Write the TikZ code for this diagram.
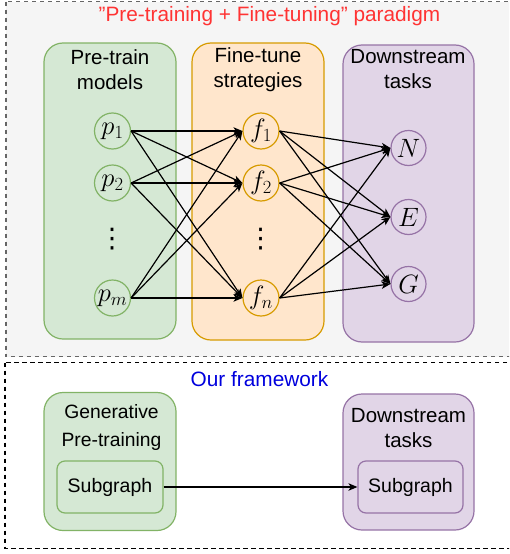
\RequirePackage{fix-cm}
\documentclass[tikz,border=0pt]{standalone}
\usepackage[no-math]{fontspec}
\setmainfont{Liberation Sans}
\newfontfamily\symfont{DejaVu Sans}
\usetikzlibrary{arrows.meta}
\definecolor{gfill}{HTML}{D5E8D4}
\definecolor{gline}{HTML}{82B366}
\definecolor{ofill}{HTML}{FFE6CC}
\definecolor{oline}{HTML}{D79B00}
\definecolor{vfill}{HTML}{E1D5E7}
\definecolor{vline}{HTML}{9673A6}
\definecolor{panel}{HTML}{F5F5F5}
\definecolor{panelline}{HTML}{666666}
\definecolor{titlered}{HTML}{FF3333}
\definecolor{titleblue}{HTML}{0000DD}
\tikzset{
  bigbox/.style={rectangle, rounded corners=19pt, line width=1.2pt, inner sep=0pt},
  gbox/.style={bigbox, fill=gfill, draw=gline},
  obox/.style={bigbox, fill=ofill, draw=oline},
  vbox/.style={bigbox, fill=vfill, draw=vline},
  subbox/.style={rectangle, rounded corners=8pt, line width=1.2pt, inner sep=0pt,
    minimum width=106pt, minimum height=52pt, font=\fontsize{19.5}{23}\selectfont},
  head/.style={align=center, font=\fontsize{20.5}{25}\selectfont, inner sep=0pt},
  headsm/.style={align=center, font=\fontsize{19.3}{28}\selectfont, inner sep=0pt},
  var/.style={circle, minimum size=36pt, inner sep=0pt, line width=1.2pt,
    font=\fontsize{26.5}{32}\selectfont},
  gvar/.style={var, draw=gline, fill=gfill},
  ovar/.style={var, draw=oline, fill=ofill},
  vvar/.style={var, draw=vline, fill=vfill, minimum size=35pt},
  link/.style={line width=1.2pt, -{Stealth[length=9pt, width=7.5pt, inset=2.5pt]}},
  vdotsnode/.style={inner sep=0pt, font=\symfont\fontsize{27}{30}\selectfont},
}
\begin{document}
\begin{tikzpicture}[x=1pt, y=-1pt]
\useasboundingbox (0,0) rectangle (509,554);
\clip (0,0) rectangle (509,554);

% the two framing panels
\draw[fill=panel, draw=panelline, line width=1.2pt, dash pattern=on 4pt off 4pt]
  (6,1.5) rectangle (530,356.5);
\draw[draw=black, line width=1.3pt, dash pattern=on 4.5pt off 3.5pt]
  (5,362.5) rectangle (530,548.5);

\node[font=\fontsize{20.8}{25}\selectfont, text=titlered] (ttl) at (269.5,16)
  {"Pre-training + Fine-tuning" paradigm};

% three columns
\node[gbox, minimum width=132pt, minimum height=296pt] (pre) at (110,191) {};
\node[obox, minimum width=132pt, minimum height=297pt] (fin) at (258,191.5) {};
\node[vbox, minimum width=131pt, minimum height=297pt] (dwn) at (408.5,193.5) {};

\node[head] (preh) at (110,69.5) {Pre-train\\models};
\node[head] (finh) at (258,69.5) {Fine-tune\\strategies};
\node[head] (dwnh) at (408,69.5) {Downstream\\tasks};

% pre-trained models
\node[gvar] (p1) at (112.5,131) {$p_1$};
\node[gvar] (p2) at (112.5,183) {$p_2$};
\node[vdotsnode] (pd) at (112,239.5) {⋮};
\node[gvar] (pm) at (112.5,298) {$p_m$};

% fine-tuning strategies
\node[ovar] (f1) at (261,131) {$f_1$};
\node[ovar] (f2) at (261,183) {$f_2$};
\node[vdotsnode] (fd) at (260.5,239.5) {⋮};
\node[ovar] (fn) at (261,298) {$f_n$};

% downstream tasks
\node[vvar] (N) at (408.5,148) {$N$};
\node[vvar] (E) at (408.5,217) {$E$};
\node[vvar] (G) at (408.5,284) {$G$};

\foreach \a in {p1,p2,pm}
  \foreach \b in {f1,f2,fn}
    \draw[link] (\a.east) -- (\b.west);
\foreach \a in {f1,f2,fn}
  \foreach \b in {N,E,G}
    \draw[link] (\a.east) -- (\b.west);

% our framework
\node[font=\fontsize{20.8}{25}\selectfont, text=titleblue] (our) at (259.5,379)
  {Our framework};
\node[gbox, minimum width=132pt, minimum height=138pt] (gen) at (110,461.5) {};
\node[vbox, minimum width=131pt, minimum height=136pt] (dst) at (408.5,462) {};
\node[headsm] (genh) at (111.5,428) {Generative\\Pre-training};
\node[head] (dsth) at (408.5,428.5) {Downstream\\tasks};
\node[subbox, draw=gline, fill=gfill] (sg1) at (110,487) {Subgraph};
\node[subbox, draw=vline, fill=vfill, minimum width=105pt] (sg2) at (410.5,487) {Subgraph};
\draw[link] (sg1.east) -- (sg2.west);
\end{tikzpicture}
\end{document}
